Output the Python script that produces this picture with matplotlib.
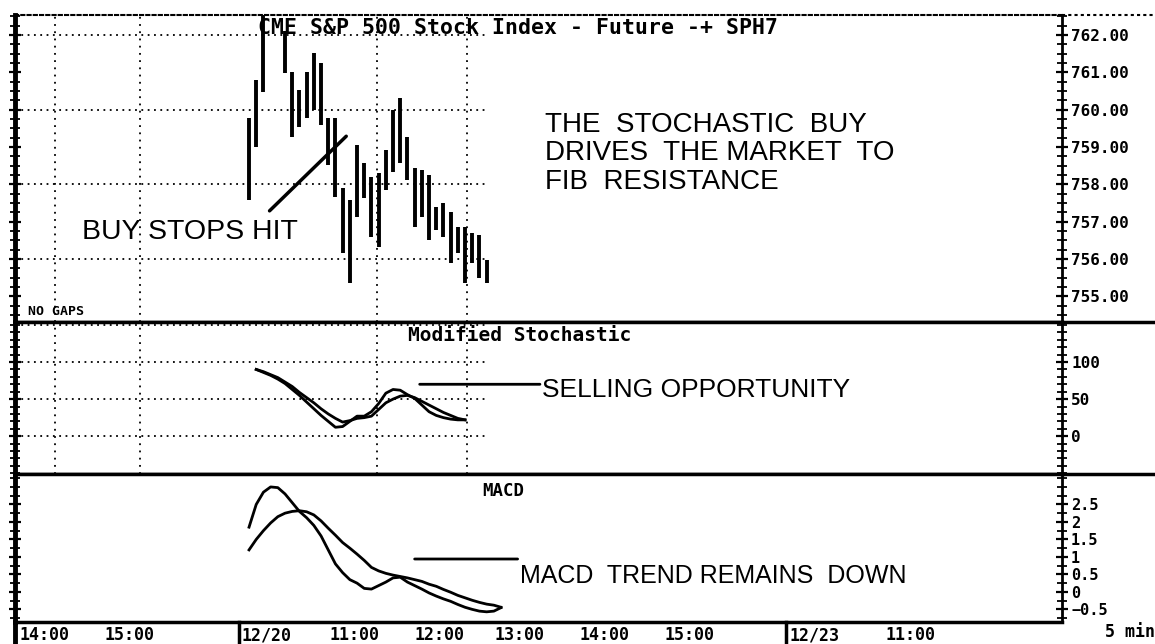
import matplotlib
matplotlib.use('Agg')
import matplotlib.pyplot as plt
from matplotlib.lines import Line2D
from matplotlib.ticker import MultipleLocator
from matplotlib.transforms import blended_transform_factory

# 5 min bars, x = bar number counted from the 12/20 open
bar_idx = [1, 2, 3, 6, 7, 8, 9, 10, 11, 12, 13, 14, 15, 16, 17, 18, 19, 20,
           21, 22, 23, 24, 25, 26, 27, 28, 29, 30, 31, 32, 33, 34]
bar_high = [759.77, 760.79, 762.60, 762.10, 761.00, 760.53, 761.00, 761.52,
            761.25, 759.77, 759.77, 757.90, 757.58, 759.05, 758.57, 758.19,
            758.30, 758.92, 759.99, 760.31, 759.27, 758.43, 758.38, 758.25,
            757.39, 757.50, 757.25, 756.85, 756.85, 756.69, 756.64, 755.97]
bar_low = [757.58, 759.00, 760.47, 760.98, 759.27, 759.53, 759.77, 759.99,
           759.59, 758.51, 757.66, 756.16, 755.35, 757.12, 757.63, 756.58,
           756.32, 757.84, 758.33, 758.57, 758.11, 756.85, 757.12, 756.50,
           756.77, 756.58, 755.89, 756.16, 755.35, 755.89, 755.49, 755.35]

stoch_idx = list(range(2, 32))
stoch_k = [90, 86, 82, 77, 71, 63, 55, 46, 37, 28, 20, 12, 13, 20, 27, 27, 33,
           44, 58, 63, 62, 56, 51, 42, 33, 28, 25, 23, 22, 22]
stoch_d = [90, 87, 83, 79, 73, 67, 59, 52, 45, 37, 30, 24, 19, 21, 24, 25, 27,
           36, 45, 50, 54, 55, 52, 47, 42, 37, 32, 28, 24, 22]

macd_idx = list(range(1, 37))
macd_fast = [1.85, 2.5, 2.85, 3.0, 2.98, 2.8, 2.55, 2.3, 2.12, 1.9, 1.6, 1.2,
             0.8, 0.55, 0.35, 0.25, 0.1, 0.08, 0.18, 0.28, 0.4, 0.42, 0.28,
             0.18, 0.08, -0.03, -0.12, -0.2, -0.27, -0.36, -0.44, -0.5, -0.55,
             -0.57, -0.55, -0.45]
macd_sig = [1.2, 1.5, 1.75, 1.97, 2.15, 2.25, 2.3, 2.32, 2.29, 2.2, 2.03,
            1.82, 1.62, 1.41, 1.25, 1.08, 0.9, 0.7, 0.6, 0.53, 0.48, 0.44,
            0.4, 0.35, 0.3, 0.22, 0.16, 0.07, -0.01, -0.1, -0.17, -0.24, -0.3,
            -0.35, -0.38, -0.44]

time_pos = [-27.4, -15.6, 0, 15.7, 27.5, 38.6, 50.4, 62.2, 76, 92.8]
time_lab = ['14:00', '15:00', '12/20', '11:00', '12:00', '13:00', '14:00',
            '15:00', '12/23', '11:00']
day_pos = [0, 76]
vgrid = [-26, -14.2, 18.75, 31.25]

price_ticks = [755, 756, 757, 758, 759, 760, 761, 762]
stoch_ticks = [0, 50, 100]
macd_ticks = [-0.5, 0, 0.5, 1, 1.5, 2, 2.5]

mono = dict(family='DejaVu Sans Mono', weight='bold')
sans = 'Liberation Sans'

fig = plt.figure(figsize=(11.55, 6.44), dpi=100)
L, R = 15 / 1155, 1062 / 1155
ax1 = fig.add_axes([L, 0.5, R - L, 0.4767])
ax2 = fig.add_axes([L, 0.264, R - L, 0.236], sharex=ax1)
ax3 = fig.add_axes([L, 0.0342, R - L, 0.2298], sharex=ax1)

for ax in (ax1, ax2, ax3):
    ax.set_xlim(-31.5, 113.9)
    ax.yaxis.tick_right()
    ax.tick_params(which='both', left=True, right=True, labelleft=False,
                   labelright=True, direction='inout', color='k')
    ax.tick_params(which='major', length=9, width=1.6, pad=2)
    ax.tick_params(which='minor', length=7, width=1.3)
    ax.tick_params(axis='x', which='both', length=0)
    ax.spines['left'].set_linewidth(3.5)
    ax.spines['right'].set_linewidth(2)
    ax.spines['bottom'].set_linewidth(2.5)
    ax.spines['top'].set_linewidth(2.5)

# price panel
ax1.vlines(bar_idx, bar_low, bar_high, color='k', lw=2.8)
ax1.set_ylim(754.31, 762.54)
ax1.set_yticks(price_ticks)
ax1.set_yticklabels(['%.2f' % p for p in price_ticks], fontsize=11.5, **mono)
ax1.yaxis.set_minor_locator(MultipleLocator(0.25))
ax1.hlines([756, 758, 760, 762], -31.5, 34, color='k', lw=1.3,
           linestyles=(0, (1, 2.5)))
ax1.spines['top'].set_linestyle((0, (1.5, 1.5)))
ax1.spines['top'].set_linewidth(1.5)
ax1.text(0.232, 0.958, 'CME S&P 500 Stock Index - Future -+ SPH7',
         transform=ax1.transAxes, fontsize=15.5, ha='left', va='center', **mono)
ax1.text(0.0124, 0.035, 'NO GAPS', transform=ax1.transAxes, fontsize=9.5,
         ha='left', va='center', **mono)
ax1.text(-22.2, 756.72, 'BUY STOPS HIT', fontsize=20.5, family=sans,
         ha='left', va='center')
ax1.annotate('', xy=(14.5, 759.29), xytext=(3.85, 757.29),
             arrowprops=dict(arrowstyle='-', lw=2.5, color='k',
                             shrinkA=0, shrinkB=0))
ax1.text(42.1, 759.94, 'THE  STOCHASTIC  BUY\nDRIVES  THE MARKET  TO\nFIB  RESISTANCE',
         fontsize=20, family=sans, ha='left', va='top', linespacing=1.12)

# modified stochastic
ax2.plot(stoch_idx, stoch_k, color='k', lw=2)
ax2.plot(stoch_idx, stoch_d, color='k', lw=2)
ax2.set_ylim(-51, 154)
ax2.set_yticks(stoch_ticks)
ax2.set_yticklabels([str(v) for v in stoch_ticks], fontsize=11.5, **mono)
ax2.yaxis.set_minor_locator(MultipleLocator(10))
ax2.hlines([0, 50, 100, 150], -31.5, 34, color='k', lw=1.3,
           linestyles=(0, (1, 2.5)))
ax2.text(0.375, 0.914, 'Modified Stochastic', transform=ax2.transAxes,
         fontsize=14, ha='left', va='center', **mono)
ax2.annotate('', xy=(41.4, 70), xytext=(24.7, 70),
             arrowprops=dict(arrowstyle='-', lw=2, color='k',
                             shrinkA=0, shrinkB=0))
ax2.text(41.7, 62, 'SELLING OPPORTUNITY', fontsize=19, family=sans,
         ha='left', va='center')

for ax in (ax1, ax2):
    for xv in vgrid:
        ax.axvline(xv, color='k', lw=1.3, linestyle=(0, (1, 3)))

# macd
ax3.plot(macd_idx, macd_fast, color='k', lw=2)
ax3.plot(macd_idx, macd_sig, color='k', lw=2)
ax3.set_ylim(-0.86, 3.37)
ax3.set_yticks(macd_ticks)
ax3.set_yticklabels(['%g' % v if v >= 0 else '\u22120.5' for v in macd_ticks],
                    fontsize=11, **mono)
ax3.yaxis.set_minor_locator(MultipleLocator(0.25))
ax3.text(0.446, 0.885, 'MACD', transform=ax3.transAxes, fontsize=12.5,
         ha='left', va='center', **mono)
ax3.annotate('', xy=(38.3, 0.94), xytext=(24, 0.94),
             arrowprops=dict(arrowstyle='-', lw=2, color='k',
                             shrinkA=0, shrinkB=0))
ax3.text(38.6, 0.46, 'MACD  TREND REMAINS  DOWN', fontsize=18, family=sans,
         ha='left', va='center')

for ax in (ax1, ax2):
    plt.setp(ax.get_xticklabels(), visible=False)
ax3.set_xticks(time_pos)
ax3.set_xticklabels(time_lab, fontsize=12, **mono)
ax3.tick_params(axis='x', pad=3)
for lab, pos in zip(ax3.get_xticklabels(), time_pos):
    if pos in day_pos:
        lab.set_horizontalalignment('left')
trans = blended_transform_factory(ax3.transData, ax3.transAxes)
for d in day_pos:
    ax3.plot([d - 0.4, d - 0.4], [0, -0.16], transform=trans, color='k',
             lw=2.5, clip_on=False)

# frame pieces that run past the plot area
fig.add_artist(Line2D([R, 1], [0.5, 0.5], color='k', lw=2.5))
fig.add_artist(Line2D([R, 1], [0.264, 0.264], color='k', lw=2.5))
fig.add_artist(Line2D([R, 1], [0.9767, 0.9767], color='k', lw=1.5,
                      linestyle=(0, (1.5, 1.5))))
fig.add_artist(Line2D([L, L], [0, 0.0342], color='k', lw=3.5))
fig.text(1130 / 1155, 1 - 632 / 644, '5 min', fontsize=12, ha='center',
         va='center', **mono)

fig.savefig('out.png', dpi=100, facecolor='white')
